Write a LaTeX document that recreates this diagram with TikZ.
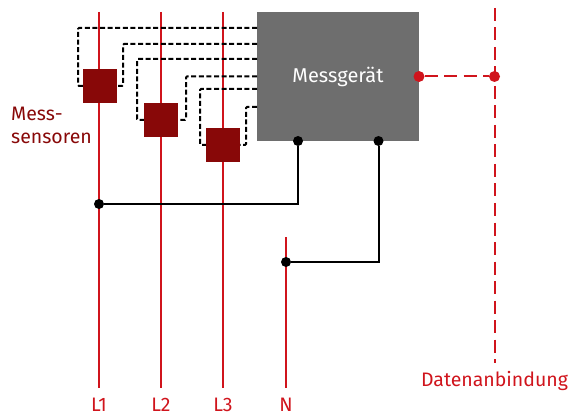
\documentclass[tikz,border=0pt]{standalone}
\usepackage{fontspec}
\setmainfont{Fira Sans}
\definecolor{linered}{HTML}{D0141C}
\definecolor{sensred}{HTML}{880808}
\definecolor{boxgray}{HTML}{6E6E6E}
\tikzset{
  x=1pt,y=-1pt,
  phase/.style={draw=linered,line width=2pt},
  datal/.style={draw=linered,line width=2pt,dash pattern=on 13pt off 6.5pt},
  sensor/.style={fill=sensred,minimum size=34pt,inner sep=0pt,anchor=center},
  meter/.style={fill=boxgray,minimum width=162pt,minimum height=129pt,inner sep=0pt,text=white},
  sig/.style={draw=black,line width=2pt,dash pattern=on 5pt off 2.6pt,rounded corners=1pt},
  wire/.style={draw=black,line width=2pt},
  bdot/.style={circle,fill=black,minimum size=10pt,inner sep=0pt},
  rdot/.style={circle,fill=linered,minimum size=11pt,inner sep=0pt},
  lab/.style={text=linered,font=\fontsize{19.5}{23}\selectfont,inner sep=0pt},
  slab/.style={text=sensred,font=\fontsize{19.5}{23}\selectfont,inner sep=0pt,align=left,anchor=north west}
}
\begin{document}
\begin{tikzpicture}
\useasboundingbox (0,0) rectangle (570,414);
% phase lines
\coordinate (t1) at (99,12); \coordinate (b1) at (99,388);
\coordinate (t2) at (161,12); \coordinate (b2) at (161,388);
\coordinate (t3) at (223,12); \coordinate (b3) at (223,388);
\coordinate (tn) at (286,237); \coordinate (bn) at (286,388);
\coordinate (td) at (494.5,8); \coordinate (bd) at (494.5,363);
\draw[phase] (t1) -- (b1);
\draw[phase] (t2) -- (b2);
\draw[phase] (t3) -- (b3);
\draw[phase] (tn) -- (bn);
\draw[datal] (td) -- (bd);
% nodes
\node[meter] (box) at (338,76.5) {\fontsize{20}{24}\selectfont Messgerät};
\node[sensor] (s1) at (100,86) {};
\node[sensor] (s2) at (161,120) {};
\node[sensor] (s3) at (223,145) {};
% sensor signal lines
\coordinate (a1) at (257,28);
\coordinate (a2) at (257,44);
\coordinate (a3) at (257,59);
\coordinate (a4) at (257,76.5);
\coordinate (a5) at (257,89);
\coordinate (a6) at (257,107);
\draw[sig] (a1) -- (78,28) -- (78,86) -- (s1.west);
\draw[sig] (a2) -- (123,44) -- (123,86) -- (s1.east);
\draw[sig] (a3) -- (137,59) -- (137,120) -- (s2.west);
\draw[sig] (a4) -- (186,76.5) -- (186,120) -- (s2.east);
\draw[sig] (a5) -- (200,89) -- (200,145) -- (s3.west);
\draw[sig] (a6) -- (246,107) -- (246,145) -- (s3.east);
% dots and wires
\node[bdot] (d1) at (298,141) {};
\node[bdot] (d2) at (378.5,141) {};
\node[bdot] (j1) at (99,204) {};
\node[bdot] (j2) at (286,262) {};
\draw[wire] (d1) |- (j1);
\draw[wire] (d2) |- (j2);
\node[rdot] (r1) at (419,76.5) {};
\node[rdot] (r2) at (494.5,76.5) {};
\draw[datal] (r1) -- (r2);
% labels
\node[slab] (ms) at (11,106.5) {Mess-\\sensoren};
\node[lab] (l1) at (99,404.5) {L1};
\node[lab] (l2) at (161,404.5) {L2};
\node[lab] (l3) at (223,404.5) {L3};
\node[lab] (ln) at (286,404.5) {N};
\node[lab] (dl) at (494.5,381) {Datenanbindung};
\end{tikzpicture}
\end{document}
